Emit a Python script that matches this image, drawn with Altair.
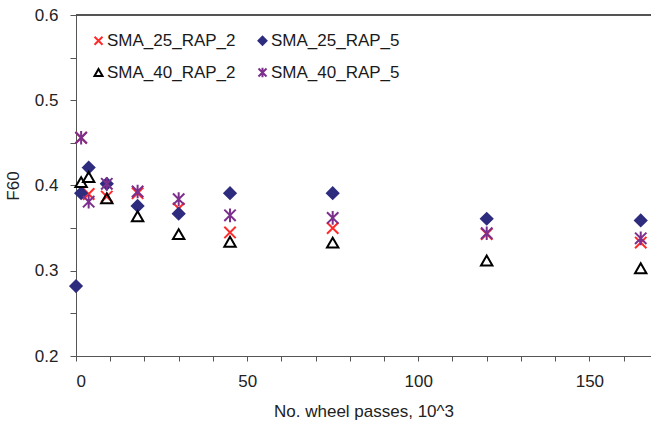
import altair as alt
import pandas as pd

series_names = ["SMA_25_RAP_2", "SMA_25_RAP_5", "SMA_40_RAP_2", "SMA_40_RAP_5"]

x_25_2 = [1.5, 3.7, 9, 18, 30, 45, 75, 120, 165]
y_25_2 = [0.456, 0.390, 0.387, 0.391, 0.373, 0.345, 0.350, 0.343, 0.333]

x_25_5 = [0, 1.5, 3.7, 9, 18, 30, 45, 75, 120, 165]
y_25_5 = [0.282, 0.391, 0.421, 0.402, 0.376, 0.367, 0.391, 0.391, 0.361, 0.359]

x_40_2 = [1.5, 3.7, 9, 18, 30, 45, 75, 120, 165]
y_40_2 = [0.404, 0.410, 0.385, 0.364, 0.343, 0.334, 0.333, 0.312, 0.303]

x_40_5 = [1.5, 3.7, 9, 18, 30, 45, 75, 120, 165]
y_40_5 = [0.456, 0.381, 0.402, 0.393, 0.384, 0.365, 0.362, 0.344, 0.338]

rows = []
for name, xs, ys in [
    ("SMA_25_RAP_2", x_25_2, y_25_2),
    ("SMA_25_RAP_5", x_25_5, y_25_5),
    ("SMA_40_RAP_2", x_40_2, y_40_2),
    ("SMA_40_RAP_5", x_40_5, y_40_5),
]:
    for xv, yv in zip(xs, ys):
        rows.append({"x": xv, "y": yv, "series": name})
df = pd.DataFrame(rows)

X_PATH = "M-1,-1L1,1M-1,1L1,-1"
STAR_PATH = "M-1,-1L1,1M-1,1L1,-1M0,-1.2L0,1.2"
shapes = [X_PATH, "diamond", "triangle-up", STAR_PATH]
strokes = ["#FF2A2A", "#2E2C7E", "#000000", "#7C2F8C"]
fills = ["transparent", "#2E2C7E", "transparent", "transparent"]

FONT = "Liberation Sans"

xscale = alt.Scale(domain=[0, 168], nice=False, zero=False)
yscale = alt.Scale(domain=[0.2, 0.6], nice=False, zero=False)

points = alt.Chart(df).mark_point(size=130, strokeWidth=2, opacity=1).encode(
    x=alt.X("x:Q", scale=xscale,
            axis=alt.Axis(title="No. wheel passes, 10^3",
                          values=list(range(0, 170, 10)),
                          labelExpr="datum.value % 50 == 0 ? datum.label : ''",
                          grid=False, tickSize=5, labelPadding=12,
                          titlePadding=14)),
    y=alt.Y("y:Q", scale=yscale,
            axis=alt.Axis(title="F60",
                          values=[0.2, 0.25, 0.3, 0.35, 0.4, 0.45, 0.5, 0.55, 0.6],
                          labelExpr="round(datum.value*20) % 2 == 0 ? format(datum.value, '.1f') : ''",
                          grid=False, tickSize=6, labelPadding=12,
                          titlePadding=12)),
    shape=alt.Shape("series:N", scale=alt.Scale(domain=series_names, range=shapes),
                    legend=alt.Legend(title=None, orient="none", legendX=14, legendY=17,
                                      direction="horizontal",
                                      columns=2, columnPadding=18, rowPadding=14,
                                      labelFont=FONT, labelFontSize=17, labelColor="#1a1a1a",
                                      symbolSize=64, symbolStrokeWidth=2, labelOffset=0,
                                      symbolOpacity=1)),
    color=alt.Color("series:N", scale=alt.Scale(domain=series_names, range=strokes)),
    fill=alt.Fill("series:N", scale=alt.Scale(domain=series_names, range=fills)),
)

top_rule = alt.Chart(df).mark_rule(color="#555555", strokeWidth=1).encode(
    y=alt.datum(0.6)
)

chart = alt.layer(top_rule, points).properties(
    width=575, height=341,
    autosize=alt.AutoSizeParams(type="none"),
    padding={"left": 76, "top": 15, "right": 0, "bottom": 76},
).configure_view(stroke=None).configure_axis(
    domainColor="#555555", tickColor="#555555",
    labelFont=FONT, titleFont=FONT, labelFontSize=17, titleFontSize=17,
    labelColor="#222222", titleColor="#222222", titleFontWeight="normal",
)

chart.save("out.html", embed_options={"renderer": "svg", "actions": False})
